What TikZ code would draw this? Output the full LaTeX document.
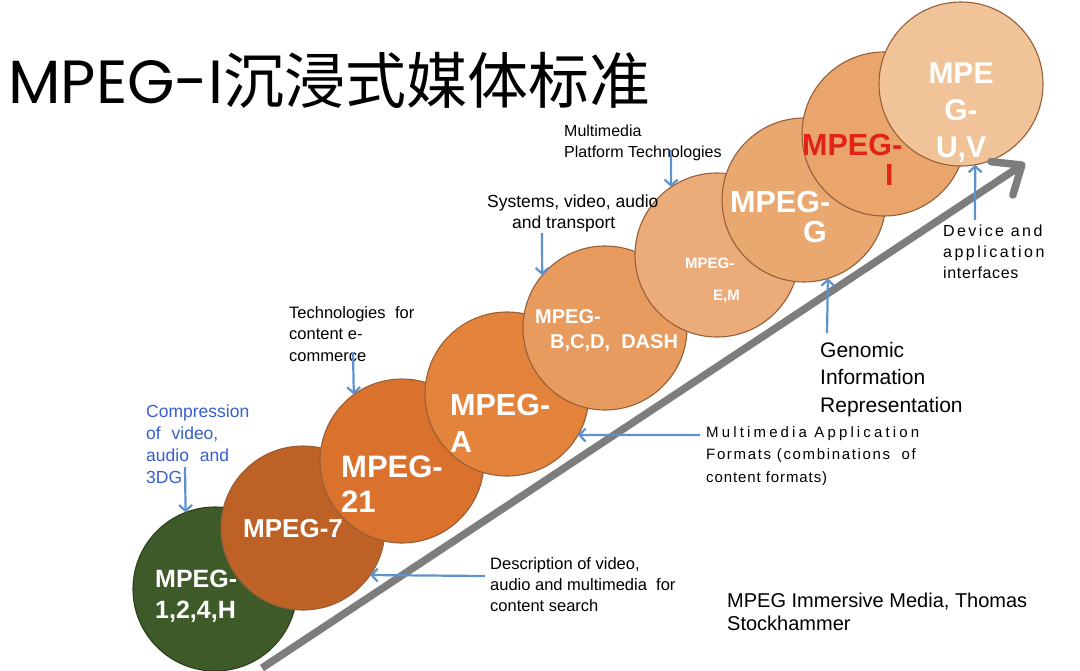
\documentclass[tikz,border=0pt]{standalone}
\usepackage{fontspec}
\setmainfont{Liberation Sans}
\newfontfamily\titlefont{Poppins}
\newfontfamily\cjkfont{Noto Sans CJK SC}
\usetikzlibrary{arrows.meta}
\definecolor{cGreen}{RGB}{62,90,40}
\definecolor{cB7}{RGB}{190,97,38}
\definecolor{cB21}{RGB}{218,113,45}
\definecolor{cBA}{RGB}{228,132,60}
\definecolor{cBB}{RGB}{232,155,95}
\definecolor{cBE}{RGB}{236,172,122}
\definecolor{cBG}{RGB}{233,168,112}
\definecolor{cBI}{RGB}{233,165,108}
\definecolor{cBU}{RGB}{240,196,152}
\definecolor{cEdge}{RGB}{150,95,55}
\definecolor{cBlue}{RGB}{95,145,205}
\definecolor{cBlueText}{RGB}{55,95,205}
\definecolor{cGray}{RGB}{125,125,125}
\definecolor{cRed}{RGB}{225,35,25}
\newcommand{\fs}[2]{\fontsize{#1}{#2}\selectfont}
\begin{document}
\begin{tikzpicture}[x=1pt,y=-1pt,
  disc/.style={circle, minimum size=164pt, inner sep=0pt, outer sep=0pt, draw=cEdge, line width=1.1pt},
  ctext/.style={text=white, anchor=base west, align=left, inner sep=0pt},
  note/.style={anchor=base west, align=left, inner sep=0pt},
  barrow/.style={draw=cBlue, line width=2.2pt, -{Straight Barb[length=6pt,width=13pt]}},
  bigarrow/.style={draw=cGray, line width=7.5pt, -{Straight Barb[round,length=24pt,width=40pt]}}]
\fill[white] (0,0) rectangle (1080,670);
\useasboundingbox (0,0) rectangle (1080,670);
% title
\node[anchor=base west, inner sep=0pt] (title) at (8,103)
  {\fs{61}{70}\titlefont MPEG-I\cjkfont 沉浸式媒体标准};
% circles
\node[disc, fill=cGreen, draw=cGreen!70!black] (c1) at (215,589) {};
\node[disc, fill=cB7] (c2) at (303,528) {};
\node[disc, fill=cB21] (c3) at (402,461) {};
\node[disc, fill=cBA] (c4) at (507,394) {};
\node[disc, fill=cBB] (c5) at (605,328) {};
\node[disc, fill=cBE] (c6) at (717,255) {};
\node[disc, fill=cBG] (c7) at (804,200) {};
\node[disc, fill=cBI] (c8) at (884,134) {};
\node[disc, fill=cBU] (c9) at (961,84) {};
% circle labels (anchor = baseline of last line)
\node[ctext, font=\bfseries\fs{25}{31}] (t1) at (155,618) {MPEG-\\1,2,4,H};
\node[ctext, font=\bfseries\fs{26}{31}] (t2) at (243,537) {MPEG-7};
\node[ctext, font=\bfseries\fs{31}{35}] (t3) at (341,512) {MPEG-\\21};
\node[ctext, font=\bfseries\fs{30.5}{37}] (t4) at (450,452) {MPEG-\\A};
\node[ctext, font=\bfseries\fs{20}{25}] (t5) at (535,348) {MPEG-\\\hspace*{15pt}B,C,D,\ \ DASH};
\node[ctext, font=\bfseries\fs{15}{32}] (t6) at (685,300) {MPEG-\\\hspace*{28pt}E,M};
\node[ctext, font=\bfseries\fs{30.5}{30}] (t7) at (730,242) {MPEG-\\\hspace*{73pt}G};
\node[ctext, text=cRed, font=\bfseries\fs{30.5}{30}] (t8) at (802,185) {MPEG-\\\hspace*{83pt}I};
\node[ctext, anchor=base, align=center, font=\bfseries\fs{30}{37}] (t9) at (961,157) {MPE\\G-\\U,V};
% big arrow
\coordinate (gStart) at (262,668);
\coordinate (gEnd) at (1025,163);
\draw[bigarrow] (gStart) -- (gEnd);
% notes (anchor = baseline of last line)
\node[note, text=cBlueText, font=\fs{17.5}{21.7}] (n1) at (146,483)
  {Compression\\of\hspace{6pt} video,\\audio\hspace{6pt} and\\3DG};
\node[note, font=\fs{16.5}{21.5}] (n2) at (289,361)
  {Technologies\hspace{5pt} for\\content e-\\commerce};
\node[note, font=\fs{17.5}{21}] (n3) at (487,228)
  {Systems, video, audio\\\hspace*{25pt}and transport};
\node[note, font=\fs{16}{21}] (n4) at (564,157)
  {Multimedia\\Platform Technologies};
\node[note, font=\fs{16}{21}] (n5) at (943,278)
  {\addfontfeature{LetterSpace=15}Device and\\\addfontfeature{LetterSpace=15.5}application\\\addfontfeature{LetterSpace=4}interfaces};
\node[note, font=\fs{21}{27.5}] (n6) at (820,412)
  {Genomic\\Information\\Representation};
\node[note, font=\fs{15}{22.5}] (n7) at (706,482)
  {\addfontfeature{LetterSpace=21}Multimedia Application\\\addfontfeature{LetterSpace=11}Formats (combinations\ \ of\\\addfontfeature{LetterSpace=6}content formats)};
\node[note, font=\fs{16.5}{21}] (n8) at (490,611)
  {Description of video,\\audio and multimedia\ \ for\\content search};
\node[note, font=\fs{20}{23}] (n9) at (727,630)
  {MPEG Immersive Media, Thomas\\Stockhammer};
% blue arrows
\coordinate (a1) at (185,467);
\coordinate (a2) at (353,352);
\coordinate (a3) at (542,233);
\coordinate (a4) at (671,150);
\coordinate (a5) at (827,333);
\coordinate (a6) at (975,220);
\coordinate (a7) at (700,435);
\coordinate (a8) at (485,576);
\draw[barrow] (a1) -- (c1.111.5);
\draw[barrow] (a2) -- (c3.126.7);
\draw[barrow] (a3) -- (c5.140.2);
\draw[barrow] (a4) -- (c6.124.1);
\draw[barrow] (a5) -- (c7.-73.7);
\draw[barrow] (a6) -- (c9.-80.2);
\draw[barrow] (a7) -- (c4.-30);
\draw[barrow] (a8) -- (c2.-35.8);
\end{tikzpicture}
\end{document}
